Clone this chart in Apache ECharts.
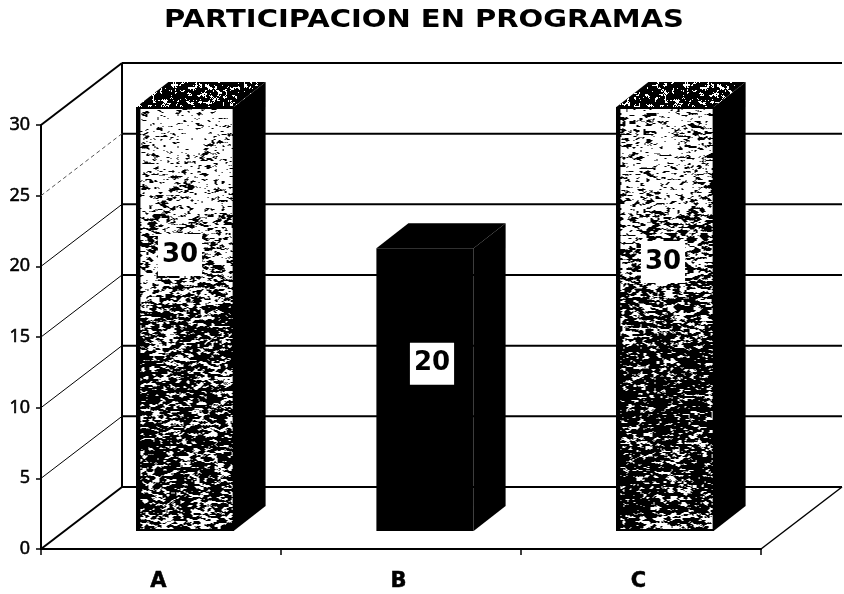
<!DOCTYPE html>
<html>
<head>
<meta charset="utf-8">
<title>Participacion en programas</title>
<script src="https://cdn.jsdelivr.net/npm/echarts@6/dist/echarts.min.js"></script>
<style>
html, body { margin: 0; padding: 0; background: #fff; }
#char1 { width: 844px; height: 594px; }
</style>
</head>
<body>
<div id="char1"></div>
<script>
var titleText = "PARTICIPACION EN PROGRAMAS";
var categories = ["A", "B", "C"];
var values = [30, 20, 30];
var yTicks = [0, 5, 10, 15, 20, 25, 30];

// the data labels were dragged by hand in the original, so each has its own shift
var labelShift = [[-5, -64], [7, -26], [-2, -57]];
// how far the walls and the bars go back
var wallDepth = [81, -62];
var barFront = [24, -18];
var barDepth = [32, -25];

// small repeatable noise, only for the printed look of the bars
function hash(x, y, seed) {
    var s = Math.sin(x * 127.1 + y * 311.7 + seed * 74.7) * 43758.5453;
    return s - Math.floor(s);
}

function smooth(x, y, size, seed) {
    var gx = Math.floor(x / size), gy = Math.floor(y / size);
    var fx = x / size - gx, fy = y / size - gy;
    var a = hash(gx, gy, seed), b = hash(gx + 1, gy, seed);
    var c = hash(gx, gy + 1, seed), d = hash(gx + 1, gy + 1, seed);
    return (a * (1 - fx) + b * fx) * (1 - fy) + (c * (1 - fx) + d * fx) * fy;
}

function darkness(t) {
    if (t < 0.2) return 0.2 + t * 0.4;
    if (t < 0.35) return 0.28 + (t - 0.2) * 1.1;
    if (t < 0.6) return 0.445 + (t - 0.35) * 1.0;
    if (t > 0.96) return 0.56;
    return 0.695 + (t - 0.6) * 0.1;
}

function speckle(seed, shift) {
    var w = 97, h = 424;
    var canvas = document.createElement("canvas");
    canvas.width = w;
    canvas.height = h;
    var ctx = canvas.getContext("2d");
    var img = ctx.createImageData(w, h);
    for (var y = 0; y < h; y++) {
        for (var x = 0; x < w; x++) {
            var d = darkness(y / h) + shift;
            var blotch = smooth(x, y, 16, seed) - 0.5;
            var grain = smooth(x * 0.7, y * 1.5, 2.4, seed + 3);
            var fine = hash(x, y, seed + 5);
            var on = d + blotch * 0.4 + (grain - 0.5) * 1.4 + (fine - 0.5) * 0.4 > 0.5;
            if (x < 4 || y < 2 || y >= h - 2 || x >= w - 1) on = true;
            var i = (y * w + x) * 4;
            var v = on ? 0 : 255;
            img.data[i] = v;
            img.data[i + 1] = v;
            img.data[i + 2] = v;
            img.data[i + 3] = 255;
        }
    }
    ctx.putImageData(img, 0, 0);
    return canvas;
}

function topSpeckle() {
    var s = 128;
    var canvas = document.createElement("canvas");
    canvas.width = s;
    canvas.height = s;
    var ctx = canvas.getContext("2d");
    var img = ctx.createImageData(s, s);
    for (var y = 0; y < s; y++) {
        for (var x = 0; x < s; x++) {
            var on = smooth(x, y, 2.5, 9) * 0.7 + hash(x, y, 11) * 0.3 < 0.64;
            var i = (y * s + x) * 4;
            var v = on ? 0 : 255;
            img.data[i] = v;
            img.data[i + 1] = v;
            img.data[i + 2] = v;
            img.data[i + 3] = 255;
        }
    }
    ctx.putImageData(img, 0, 0);
    return canvas;
}

var textures = [speckle(1, -0.04), null, speckle(2, 0.03)];
var topTexture = topSpeckle();

function renderWall(params, api) {
    var v = api.value(1);
    var box = params.coordSys;
    var p = api.coord([0, v]);
    var x0 = box.x, y0 = p[1];
    var x1 = x0 + wallDepth[0], y1 = y0 + wallDepth[1];
    var strong = v === 0 || v === yTicks[yTicks.length - 1];
    var children = [
        {
            type: "line",
            shape: { x1: x0, y1: y0, x2: x1, y2: y1 },
            style: {
                stroke: v === 25 ? "#555" : "#000",
                lineWidth: strong ? 2 : 1,
                lineDash: v === 25 ? [4, 3] : null,
            },
        },
        {
            type: "line",
            shape: { x1: x1, y1: y1, x2: x1 + box.width, y2: y1 },
            style: { stroke: "#000", lineWidth: 2 },
        },
    ];
    if (v === 0) {
        // floor edge on the right, back corner up to the top
        children.push({
            type: "line",
            shape: { x1: x0 + box.width, y1: y0, x2: x1 + box.width, y2: y1 },
            style: { stroke: "#000", lineWidth: 1.5 },
        });
        children.push({
            type: "line",
            shape: { x1: x1, y1: y1, x2: x1, y2: box.y + wallDepth[1] },
            style: { stroke: "#000", lineWidth: 2 },
        });
    }
    return { type: "group", children: children };
}

function renderBar(params, api) {
    var idx = api.value(0);
    var top = api.coord([idx, api.value(1)]);
    var base = api.coord([idx, 0]);
    var w = api.size([1, 0])[0] * 0.405;
    var l = top[0] + barFront[0] - w / 2;
    var r = l + w;
    var t = top[1] + barFront[1];
    var b = base[1] + barFront[1];
    var dx = barDepth[0], dy = barDepth[1];
    var tex = textures[idx];
    var children = [
        {
            type: "polygon",
            shape: { points: [[r, t], [r + dx, t + dy], [r + dx, b + dy], [r, b]] },
            style: { fill: "#000" },
        },
        {
            type: "polygon",
            shape: { points: [[l, t], [l + dx, t + dy], [r + dx, t + dy], [r, t]] },
            style: { fill: tex ? { image: topTexture, repeat: "repeat" } : "#000" },
        },
    ];
    if (tex) {
        children.push({
            type: "image",
            style: { image: tex, x: l, y: t, width: w, height: b - t },
        });
    } else {
        children.push({
            type: "rect",
            shape: { x: l, y: t, width: w, height: b - t },
            style: { fill: "#000" },
        });
    }
    children.push({
        type: "text",
        style: {
            text: String(api.value(1)),
            x: (l + r) / 2 + labelShift[idx][0],
            y: (t + b) / 2 + labelShift[idx][1],
            align: "center",
            verticalAlign: "middle",
            fill: "#000",
            font: "bold 26px 'DejaVu Sans'",
            backgroundColor: "#fff",
            padding: [8, 4, 8, 4],
        },
    });
    return { type: "group", children: children };
}

function char1() {
    var myChart = echarts.init(document.getElementById("char1"), null, { renderer: "canvas" });

    var option = {
        backgroundColor: "#fff",
        animation: false,
        graphic: [
            {
                // the original title is set wider than DejaVu Bold
                type: "text",
                x: 424,
                y: 20,
                scaleX: 1.16,
                style: {
                    text: titleText,
                    align: "center",
                    verticalAlign: "middle",
                    fill: "#000",
                    font: "bold 25px 'DejaVu Sans'",
                },
            },
        ],
        grid: { left: 41, right: 83, top: 125, bottom: 45 },
        xAxis: {
            type: "category",
            data: categories,
            axisLine: { lineStyle: { color: "#000", width: 2 } },
            axisTick: { show: true, length: 6, lineStyle: { color: "#000", width: 1.5 } },
            axisLabel: {
                color: "#000",
                margin: 22,
                padding: [0, 5, 0, 0],
                fontFamily: "DejaVu Sans",
                fontWeight: "bold",
                fontSize: 21,
                textBorderColor: "#000",
                textBorderWidth: 0.5,
            },
        },
        yAxis: {
            type: "value",
            min: 0,
            max: 30,
            interval: 5,
            splitLine: { show: false },
            axisLine: { show: true, lineStyle: { color: "#000", width: 2 } },
            axisTick: { show: true, length: 5, lineStyle: { color: "#000", width: 1.5 } },
            axisLabel: {
                color: "#000",
                margin: 11,
                fontFamily: "Open Sans",
                fontSize: 18,
                textBorderColor: "#000",
                textBorderWidth: 0.6,
            },
        },
        series: [
            {
                type: "custom",
                renderItem: renderWall,
                silent: true,
                clip: false,
                data: yTicks.map(function (v) { return [0, v]; }),
                z: 1,
            },
            {
                type: "custom",
                renderItem: renderBar,
                clip: false,
                data: values.map(function (v, i) { return [i, v]; }),
                z: 3,
            },
        ],
    };

    myChart.setOption(option);
}

char1();
</script>
</body>
</html>
